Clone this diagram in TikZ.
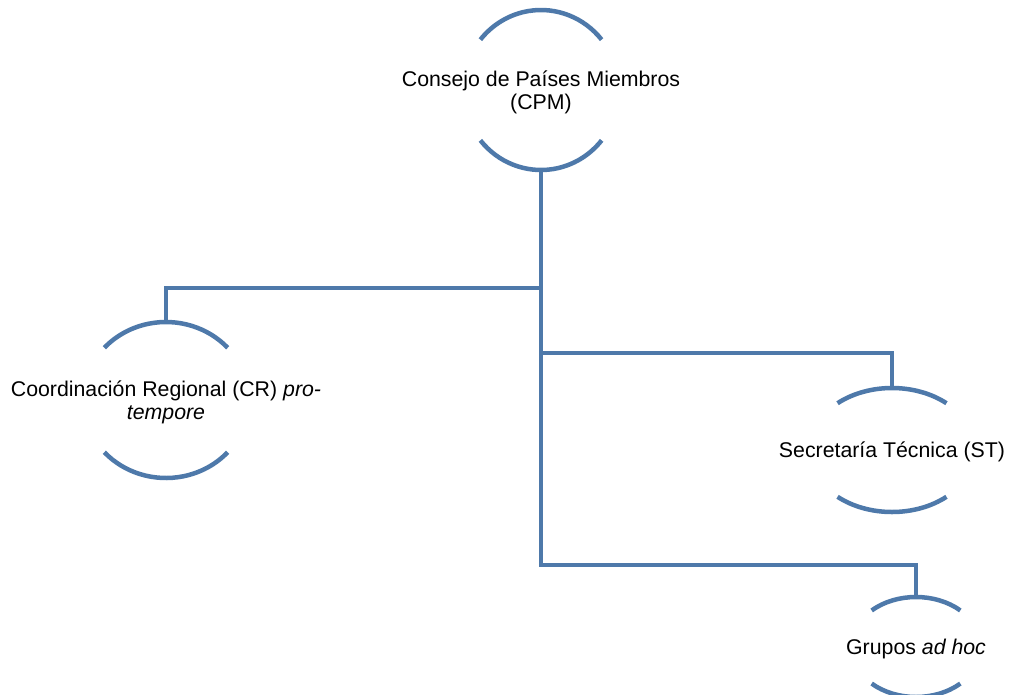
\documentclass[tikz,border=0pt]{standalone}
\usepackage{fontspec}
\setmainfont{Liberation Sans}
\usetikzlibrary{shapes.geometric}
\definecolor{orgblue}{RGB}{78,121,170}
\tikzset{
x=1pt, y=1pt,
link/.style={draw=orgblue, line width=4pt}, % the connectors
ring/.style={draw=orgblue, line width=4.5pt}, % the arcs round each unit
unit/.style 2 args={ellipse, inner sep=0pt, minimum width=#1, minimum height=#2},
label text/.style={align=center, inner sep=0pt, yshift=-2pt, font=\fontsize{21.3}{23}\selectfont},
}
% top and bottom arcs of a unit: node, x radius, y radius, angle
\newcommand\unitarcs[4]{%
  \draw[ring] ([shift={(#4:#2 and #3)}]#1.center)
    arc[start angle=#4, end angle=180-#4, x radius=#2, y radius=#3];
  \draw[ring] ([shift={(180+#4:#2 and #3)}]#1.center)
    arc[start angle=180+#4, end angle=360-#4, x radius=#2, y radius=#3];}

\begin{document}
\begin{tikzpicture}
  \useasboundingbox (0,0) rectangle (1009,-694);

  \node[unit={156pt}{160pt}] (cpm) at (541,-90) {};
  \node[unit={166pt}{156pt}] (cr) at (166,-400) {};
  \node[unit={166pt}{124pt}] (st) at (892,-450) {};
  \node[unit={130pt}{100pt}] (ad) at (916,-647) {};

  \node[label text] (cpmtext) at (cpm) {Consejo de Países Miembros\\(CPM)};
  \node[label text] (crtext) at (cr) {Coordinación Regional (CR) \textit{pro-}\\\textit{tempore}};
  \node[label text] (sttext) at (st) {Secretaría Técnica (ST)};
  \node[label text] (adtext) at (ad) {Grupos \textit{ad hoc}};

  \unitarcs{cpm}{78}{80}{39}
  \unitarcs{cr}{83}{78}{42}
  \unitarcs{st}{83}{62}{49}
  \unitarcs{ad}{65}{50}{47}

  \draw[link] (cpm.south) |- ([yshift=32pt]ad.north) -- (ad.north);
  \draw[link] (cr.north) |- ([yshift=-118pt]cpm.south);
  \draw[link] (st.north) |- ([yshift=-183pt]cpm.south);

\end{tikzpicture}
\end{document}
